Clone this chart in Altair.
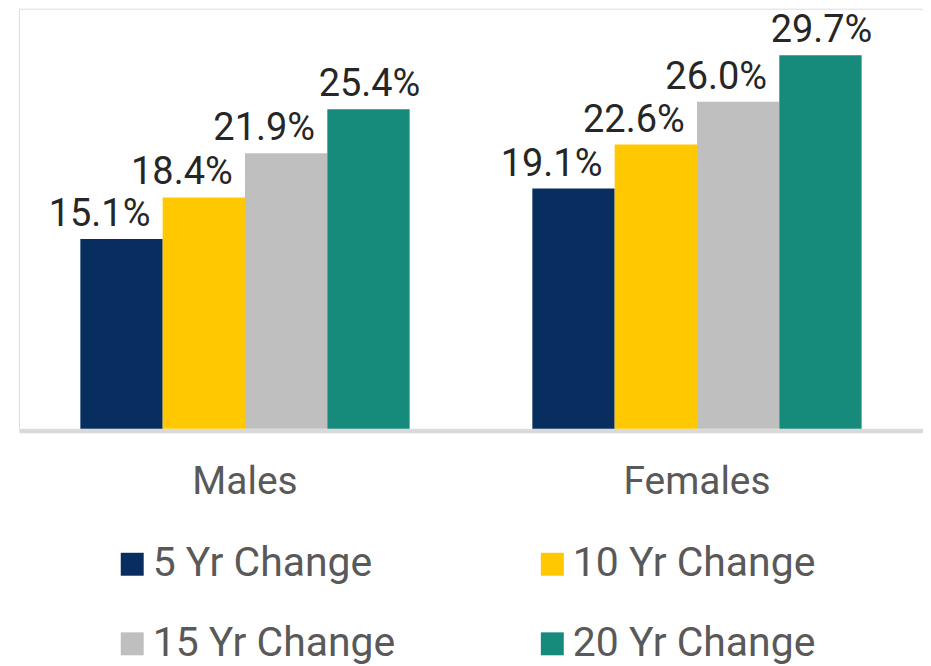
import altair as alt
import pandas as pd

groups = ["Males", "Females"]
series = ["5 Yr Change", "10 Yr Change", "15 Yr Change", "20 Yr Change"]
males = [15.1, 18.4, 21.9, 25.4]
females = [19.1, 22.6, 26.0, 29.7]
colors = ["#072e5f", "#ffc800", "#bfbfbf", "#168b7c"]

rows = []
for g, vals in zip(groups, [males, females]):
    for s, v in zip(series, vals):
        rows.append({"group": g, "series": s, "value": v, "label": f"{v:.1f}%"})
df = pd.DataFrame(rows)

FONT = "Roboto"

x = alt.X(
    "group:N",
    sort=groups,
    scale=alt.Scale(paddingInner=0.2715, paddingOuter=0.1358),
    axis=alt.Axis(
        title=None, labelAngle=0, labelFontSize=39, labelColor="#595959",
        labelFont=FONT, labelPadding=32, domainColor="#d9d9d9", domainWidth=4,
        ticks=False, tickSize=0, offset=2, labelBaseline="top",
    ),
)
xo = alt.XOffset("series:N", sort=series, scale=alt.Scale(paddingInner=0, paddingOuter=0))
y = alt.Y("value:Q", scale=alt.Scale(domain=[0, 33.4], nice=False, zero=True), axis=None)

bars = alt.Chart(df).mark_bar(cornerRadius=0).encode(
    x=x,
    xOffset=xo,
    y=y,
    color=alt.Color(
        "series:N",
        sort=series,
        scale=alt.Scale(domain=series, range=colors),
        legend=alt.Legend(
            title=None, orient="none", legendX=93, legendY=536, columns=2,
            direction="horizontal",
            symbolType="square", symbolSize=529, symbolStrokeWidth=0,
            labelFontSize=41, labelFont=FONT, labelColor="#595959",
            labelOffset=0, columnPadding=136, rowPadding=38, labelLimit=500,
            padding=0,
        ),
    ),
)

txt_base = alt.Chart(df).encode(x=x, xOffset=xo, y=y, text="label:N")
labels_a = txt_base.transform_filter(
    alt.FieldOneOfPredicate(field="series", oneOf=series[:3])
).mark_text(dy=-13, dx=-22, baseline="alphabetic", fontSize=38, font=FONT, color="#262626")
labels_b = txt_base.transform_filter(
    alt.FieldEqualPredicate(field="series", equal=series[3])
).mark_text(dy=-13, dx=1, baseline="alphabetic", fontSize=38, font=FONT, color="#262626")

chart = (
    alt.layer(bars, labels_a, labels_b)
    .properties(
        width=906,
        height=421,
        autosize=alt.AutoSizeParams(type="none"),
        padding={"left": 11, "top": 0, "right": 0, "bottom": 237},
    )
    .configure_view(strokeWidth=0, stroke="transparent", fill="white")
    .configure(background="white")
)

chart.save("out.html", embed_options={"renderer": "svg", "actions": False})
